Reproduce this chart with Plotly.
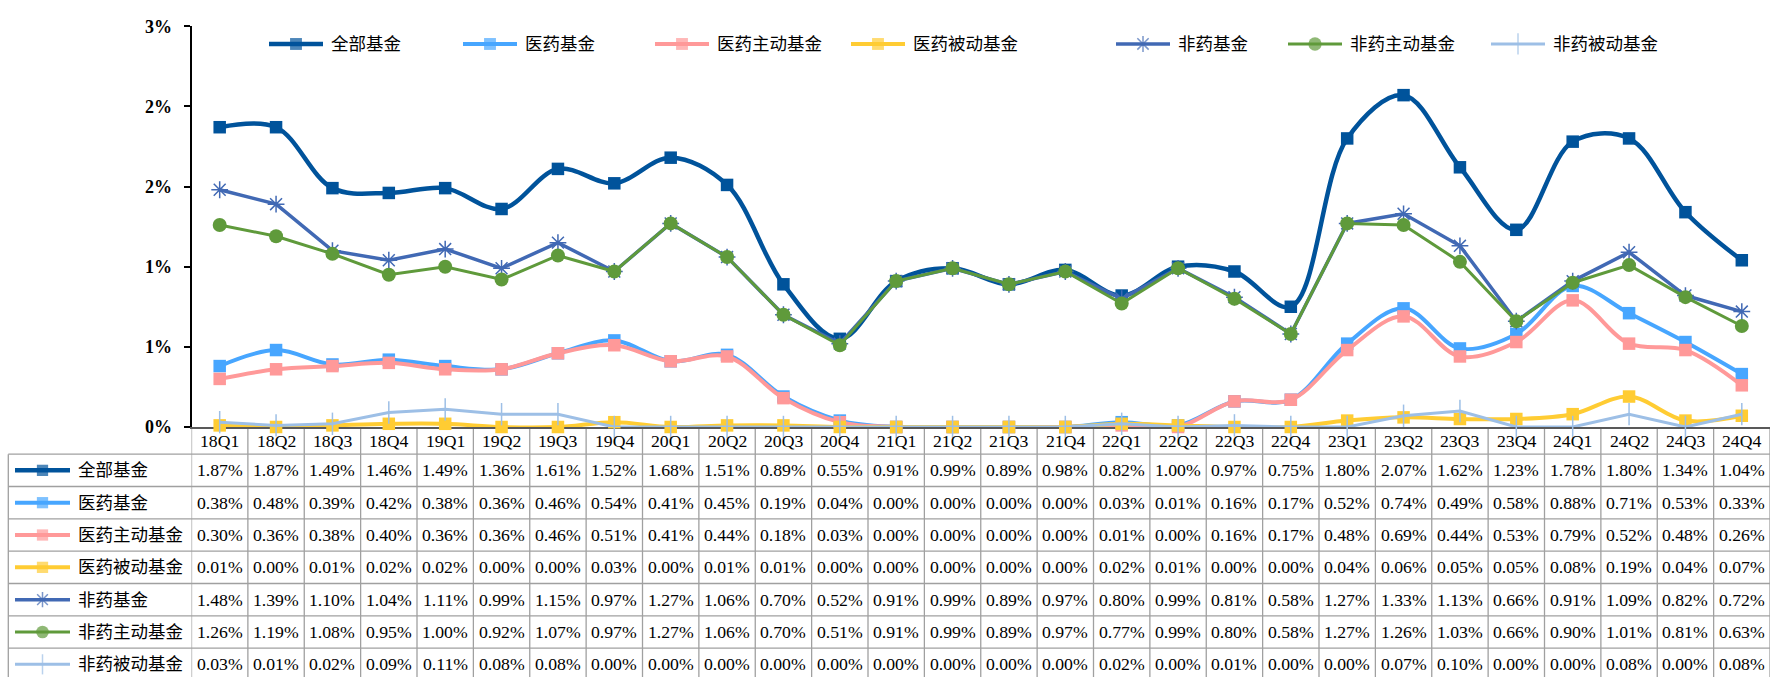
import plotly.graph_objects as go

# ---------------- data ----------------
quarters = ["18Q1", "18Q2", "18Q3", "18Q4", "19Q1", "19Q2", "19Q3", "19Q4",
            "20Q1", "20Q2", "20Q3", "20Q4", "21Q1", "21Q2", "21Q3", "21Q4",
            "22Q1", "22Q2", "22Q3", "22Q4", "23Q1", "23Q2", "23Q3", "23Q4",
            "24Q1", "24Q2", "24Q3", "24Q4"]

all_funds = [1.87, 1.87, 1.49, 1.46, 1.49, 1.36, 1.61, 1.52, 1.68, 1.51, 0.89, 0.55, 0.91, 0.99,
             0.89, 0.98, 0.82, 1.00, 0.97, 0.75, 1.80, 2.07, 1.62, 1.23, 1.78, 1.80, 1.34, 1.04]
pharma = [0.38, 0.48, 0.39, 0.42, 0.38, 0.36, 0.46, 0.54, 0.41, 0.45, 0.19, 0.04, 0.00, 0.00,
          0.00, 0.00, 0.03, 0.01, 0.16, 0.17, 0.52, 0.74, 0.49, 0.58, 0.88, 0.71, 0.53, 0.33]
pharma_active = [0.30, 0.36, 0.38, 0.40, 0.36, 0.36, 0.46, 0.51, 0.41, 0.44, 0.18, 0.03, 0.00, 0.00,
                 0.00, 0.00, 0.01, 0.00, 0.16, 0.17, 0.48, 0.69, 0.44, 0.53, 0.79, 0.52, 0.48, 0.26]
pharma_passive = [0.01, 0.00, 0.01, 0.02, 0.02, 0.00, 0.00, 0.03, 0.00, 0.01, 0.01, 0.00, 0.00, 0.00,
                  0.00, 0.00, 0.02, 0.01, 0.00, 0.00, 0.04, 0.06, 0.05, 0.05, 0.08, 0.19, 0.04, 0.07]
nonpharma = [1.48, 1.39, 1.10, 1.04, 1.11, 0.99, 1.15, 0.97, 1.27, 1.06, 0.70, 0.52, 0.91, 0.99,
             0.89, 0.97, 0.80, 0.99, 0.81, 0.58, 1.27, 1.33, 1.13, 0.66, 0.91, 1.09, 0.82, 0.72]
nonpharma_active = [1.26, 1.19, 1.08, 0.95, 1.00, 0.92, 1.07, 0.97, 1.27, 1.06, 0.70, 0.51, 0.91, 0.99,
                    0.89, 0.97, 0.77, 0.99, 0.80, 0.58, 1.27, 1.26, 1.03, 0.66, 0.90, 1.01, 0.81, 0.63]
nonpharma_passive = [0.03, 0.01, 0.02, 0.09, 0.11, 0.08, 0.08, 0.00, 0.00, 0.00, 0.00, 0.00, 0.00, 0.00,
                     0.00, 0.00, 0.02, 0.00, 0.01, 0.00, 0.00, 0.07, 0.10, 0.00, 0.00, 0.08, 0.00, 0.08]

series_names = ["全部基金", "医药基金", "医药主动基金", "医药被动基金",
                "非药基金", "非药主动基金", "非药被动基金"]
series_values = [all_funds, pharma, pharma_active, pharma_passive,
                 nonpharma, nonpharma_active, nonpharma_passive]

y_tick_values = [0, 0.5, 1.0, 1.5, 2.0, 2.5]
y_tick_labels = ["0%", "1%", "1%", "2%", "2%", "3%"]

# ---------------- styles ----------------
styles = [
    dict(color="#00539B", width=4.5, shape="spline", symbol="square", msize=12.5, mline=0),
    dict(color="#47A6FF", width=4.0, shape="spline", symbol="square", msize=12.5, mline=0),
    dict(color="#FF9999", width=4.0, shape="spline", symbol="square", msize=12.5, mline=0),
    dict(color="#FFCC33", width=4.0, shape="spline", symbol="square", msize=12.5, mline=0),
    dict(color="#4169B4", width=3.5, shape="linear", symbol="asterisk-open", msize=14, mline=1.5),
    dict(color="#5F9A3B", width=3.0, shape="linear", symbol="circle", msize=14, mline=0),
    dict(color="#9DBFE6", width=3.0, shape="linear", symbol="line-ns-open", msize=16, mline=1.5),
]

W, H = 1774, 687
PLOT_LEFT, PLOT_RIGHT = 191.5, 1770
PLOT_TOP, PLOT_BOTTOM = 16.7, 429.5
HEADER_BOTTOM = 457.5
ROW_H = 33.3
TABLE_LEFT = 8.3
LEGEND_Y = 35
legend_key_x = [269, 463, 655, 851, 1116, 1288, 1491]
KEY_LEN = 54

NUM_FONT = "Liberation Serif, Times New Roman, serif"
CJK_FONT = "Liberation Serif, Noto Sans CJK SC, serif"
GRID = "#A0A0A0"


def py(p):
    return 1 - p / H


def pxp(p):
    return p / W


fig = go.Figure()

# ---------------- main series ----------------
for name, vals, st in zip(series_names, series_values, styles):
    fig.add_trace(go.Scatter(
        x=quarters, y=vals, name=name, mode="lines+markers",
        line=dict(color=st["color"], width=st["width"], shape=st["shape"], smoothing=1.0),
        marker=dict(symbol=st["symbol"], size=st["msize"], color=st["color"],
                    line=dict(color=st["color"], width=st["mline"])),
        cliponaxis=False, showlegend=False, xaxis="x", yaxis="y",
    ))

# ---------------- legend keys (top and table) on a pixel overlay axis ----------------
def key_trace(x0, length, yc, st, msize_scale=1.0):
    xm = x0 + length / 2
    return go.Scatter(
        x=[x0, xm, x0 + length], y=[yc, yc, yc], mode="lines+markers",
        line=dict(color=st["color"], width=st["width"]),
        marker=dict(symbol=st["symbol"], size=[0, st["msize"] * msize_scale, 0], color=st["color"],
                    line=dict(color=st["color"], width=st["mline"])),
        showlegend=False, hoverinfo="skip", xaxis="x2", yaxis="y2", cliponaxis=False,
    )


annotations = []
for k, (name, st) in enumerate(zip(series_names, styles)):
    x0 = legend_key_x[k]
    fig.add_trace(key_trace(x0, KEY_LEN, LEGEND_Y, st, 0.95))
    annotations.append(dict(x=pxp(x0 + KEY_LEN + 6), y=py(LEGEND_Y), xref="paper", yref="paper",
                            text=name, showarrow=False, xanchor="left", yanchor="middle",
                            font=dict(family=CJK_FONT, size=17.5, color="#000")))

# table row keys and labels
for r, (name, st) in enumerate(zip(series_names, styles)):
    yc = HEADER_BOTTOM + ROW_H * (r + 0.5)
    fig.add_trace(key_trace(15, 55, yc, st, 0.9))
    annotations.append(dict(x=pxp(76), y=py(yc), xref="paper", yref="paper",
                            text=name, showarrow=False, xanchor="left", yanchor="middle",
                            font=dict(family=CJK_FONT, size=17.5, color="#000")))
    for i, q in enumerate(quarters):
        annotations.append(dict(x=q, y=py(yc), xref="x", yref="paper",
                                text=f"{series_values[r][i]:.2f}%", showarrow=False,
                                xanchor="center", yanchor="middle",
                                font=dict(family=NUM_FONT, size=17.7, color="#000")))

# header row (categories)
for q in quarters:
    annotations.append(dict(x=q, y=py((PLOT_BOTTOM + HEADER_BOTTOM) / 2 + 0.5), xref="x", yref="paper",
                            text=q, showarrow=False, xanchor="center", yanchor="middle",
                            font=dict(family=NUM_FONT, size=17.7, color="#000")))

# ---------------- table grid ----------------
shapes = []
n_rows = len(series_names)
for k in range(n_rows + 1):
    yy = HEADER_BOTTOM + ROW_H * k
    if yy > H:
        break
    shapes.append(dict(type="line", xref="paper", yref="paper",
                       x0=pxp(TABLE_LEFT), x1=pxp(PLOT_RIGHT), y0=py(yy), y1=py(yy),
                       line=dict(color=GRID, width=1.3)))
shapes.append(dict(type="line", xref="paper", yref="paper",
                   x0=pxp(TABLE_LEFT), x1=pxp(TABLE_LEFT), y0=py(HEADER_BOTTOM), y1=0,
                   line=dict(color=GRID, width=1.3)))
for i in range(len(quarters) + 1):
    shapes.append(dict(type="line", xref="x", yref="paper",
                       x0=i - 0.5, x1=i - 0.5, y0=py(PLOT_BOTTOM), y1=0,
                       line=dict(color=GRID, width=1.3), layer="below"))

fig.update_layout(
    width=W, height=H,
    margin=dict(l=0, r=0, t=0, b=0),
    paper_bgcolor="white", plot_bgcolor="rgba(0,0,0,0)",
    showlegend=False,
    xaxis=dict(domain=[pxp(PLOT_LEFT), pxp(PLOT_RIGHT)], type="category",
               range=[-0.5, len(quarters) - 0.5], showticklabels=False, ticks="",
               showgrid=False, zeroline=False, showline=True, linecolor="#595959",
               linewidth=2, layer="below traces", anchor="y"),
    yaxis=dict(domain=[py(PLOT_BOTTOM), py(PLOT_TOP)], range=[0, 2.5],
               tickvals=y_tick_values, ticktext=y_tick_labels,
               tickfont=dict(family=NUM_FONT, size=18, color="#000", weight="bold"),
               ticks="outside", ticklen=6, tickwidth=2, tickcolor="#000",
               ticklabelstandoff=8,
               showgrid=False, zeroline=False, showline=True, linecolor="#000",
               linewidth=2, layer="below traces", anchor="x"),
    xaxis2=dict(domain=[0, 1], range=[0, W], visible=False, anchor="y2", fixedrange=True),
    yaxis2=dict(domain=[0, 1], range=[H, 0], visible=False, anchor="x2", fixedrange=True),
    annotations=annotations,
    shapes=shapes,
)

fig.write_html("out.html", config={"displayModeBar": False},
               post_script="document.body.style.margin='0px';document.body.style.overflow='hidden';")
